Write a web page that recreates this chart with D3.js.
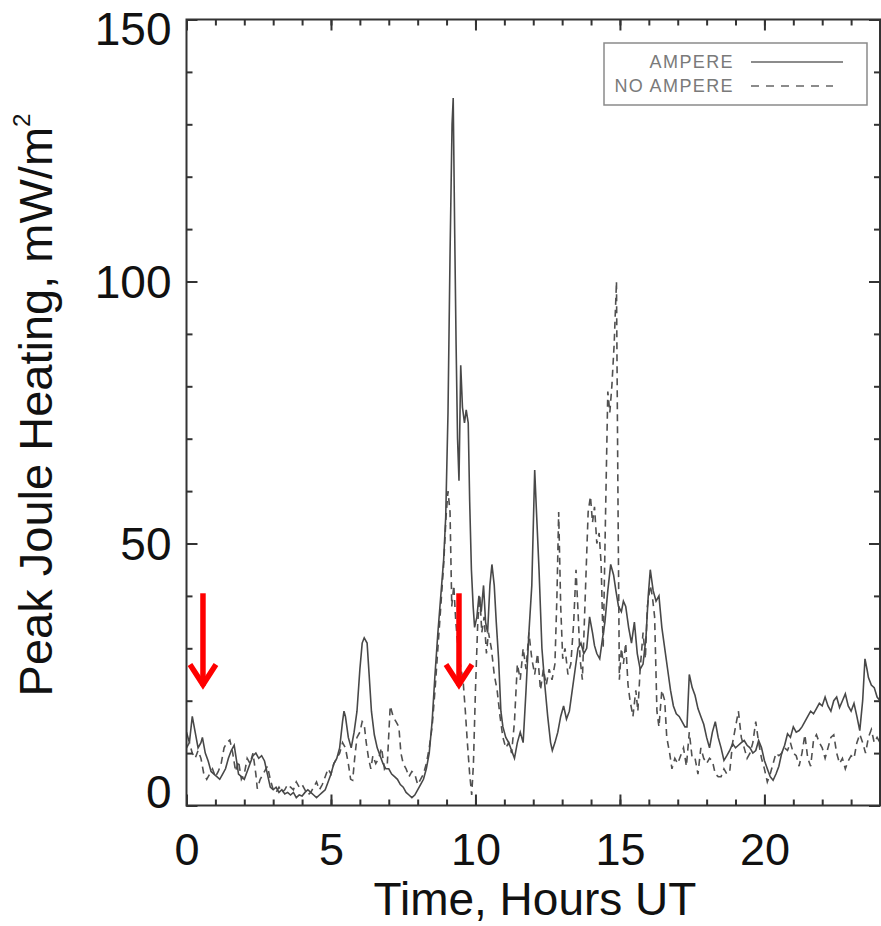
<!DOCTYPE html>
<html>
<head>
<meta charset="utf-8">
<script src="https://cdnjs.cloudflare.com/ajax/libs/d3/7.8.5/d3.min.js"></script>
<style>
  html, body { margin: 0; padding: 0; background: #fff; }
  svg { display: block; font-family: "Liberation Sans", Arial, Helvetica, sans-serif; }
</style>
</head>
<body>
<div id="chart"></div>
<script>
// [hour UT, peak Joule heating mW/m2]
const ampere = [
  [0.0,14],[0.1,12],[0.2,17],[0.3,14],[0.4,11],[0.5,12],[0.55,13],[0.65,10],[0.75,8.5],[0.85,6.5],
  [0.95,6],[1.05,5.5],[1.15,5],[1.25,6],[1.35,7],[1.45,9],[1.55,10.5],[1.65,11.5],[1.72,9],[1.8,6],
  [1.9,5.5],[2.0,5],[2.1,6.5],[2.2,8],[2.3,9.5],[2.4,10],[2.5,9],[2.6,9.5],[2.7,8.5],[2.8,6],
  [2.9,3.5],[3.0,3],[3.1,3.5],[3.2,2.5],[3.3,3],[3.4,2.2],[3.5,2.5],[3.6,2],[3.7,2.5],[3.8,1.5],
  [3.9,2],[4.0,1.8],[4.1,2.5],[4.2,3],[4.3,2.5],[4.4,2],[4.5,1.5],[4.6,2],[4.7,2.5],[4.8,3],
  [4.9,4.5],[5.0,6],[5.1,8],[5.2,9],[5.3,11],[5.4,16],[5.45,18],[5.5,17],[5.6,13],[5.7,11],
  [5.8,14],[5.9,18],[6.0,26],[6.08,31],[6.15,32],[6.25,31],[6.32,25],[6.4,18],[6.5,13.5],[6.6,11],
  [6.7,9.5],[6.8,8],[6.9,7],[7.0,7],[7.1,6],[7.2,5.5],[7.3,5],[7.4,4],[7.5,3.5],[7.6,2.5],
  [7.7,2],[7.8,1.5],[7.9,2],[8.0,3],[8.1,4],[8.2,5],[8.3,7],[8.4,10],[8.5,16],[8.6,25],
  [8.7,33],[8.8,40],[8.9,47],[8.97,55],[9.05,75],[9.12,105],[9.19,130],[9.23,135],[9.28,110],[9.33,88],
  [9.38,70],[9.43,62],[9.49,84],[9.55,76],[9.62,73],[9.68,75.5],[9.75,73],[9.8,58],[9.86,45],[9.92,38],
  [9.97,34],[10.05,36],[10.12,40],[10.2,37],[10.28,42],[10.35,35],[10.42,33],[10.5,42],[10.57,46],[10.65,42],
  [10.72,35],[10.8,28],[10.88,18],[10.95,15],[11.05,13],[11.15,12],[11.25,10.5],[11.35,9],[11.45,12],[11.55,14],
  [11.65,12],[11.75,22],[11.85,33],[11.95,42],[12.05,64],[12.12,55],[12.2,45],[12.3,30],[12.4,23],[12.5,17],
  [12.6,12],[12.66,10.5],[12.75,12],[12.85,14],[12.95,17],[13.05,19],[13.15,16.5],[13.25,18],[13.35,22],[13.45,26],
  [13.55,30],[13.65,31],[13.75,29],[13.85,30],[13.95,36],[14.05,33],[14.12,30.5],[14.2,29],[14.3,28],[14.4,32],
  [14.48,35],[14.58,41],[14.68,46],[14.78,44],[14.86,41],[14.95,38],[15.05,37],[15.12,39],[15.2,38],[15.3,34],
  [15.4,31],[15.5,35],[15.6,29],[15.7,26],[15.8,27],[15.9,32],[15.98,40],[16.05,45],[16.15,41],[16.25,39],
  [16.35,40],[16.45,34],[16.55,30],[16.65,26],[16.75,22],[16.85,19],[16.95,17.5],[17.05,17],[17.15,16],[17.25,15],
  [17.32,15],[17.4,25],[17.5,22.5],[17.6,21],[17.7,18.5],[17.8,17],[17.9,15.5],[18.0,13],[18.1,11],[18.2,14],
  [18.3,16],[18.4,13],[18.5,11],[18.6,8.6],[18.7,9.5],[18.8,10.5],[18.9,11.8],[19.0,11],[19.1,11.5],[19.2,12],
  [19.3,12.4],[19.4,11.5],[19.5,11],[19.6,10],[19.7,10.5],[19.8,12.4],[19.9,11],[20.0,8.6],[20.1,7],[20.2,5.5],
  [20.3,4.8],[20.4,6],[20.5,7.5],[20.6,10],[20.7,11.5],[20.8,13.7],[20.9,13],[21.0,15],[21.1,14],[21.2,14.3],
  [21.3,15],[21.4,16],[21.5,17],[21.6,18],[21.7,17.5],[21.8,18.5],[21.9,19.5],[22.0,19],[22.1,20.7],[22.2,19],
  [22.3,18],[22.4,20],[22.5,20.7],[22.6,18.7],[22.7,20],[22.8,21.3],[22.9,19],[23.0,18],[23.1,19.5],[23.2,17],
  [23.3,14.3],[23.4,20],[23.48,28],[23.55,26],[23.6,24.4],[23.7,23],[23.8,22.5],[23.9,20.7],[24.0,20]
];

const noAmpere = [
  [0.0,11],[0.1,12],[0.2,10],[0.3,9],[0.4,10.5],[0.5,9],[0.6,6],[0.7,5],[0.8,6],[0.9,7],
  [1.0,5.5],[1.1,6.5],[1.2,8],[1.3,11],[1.4,12],[1.5,12.5],[1.6,10],[1.7,6.5],[1.8,8.5],[1.9,5],
  [2.0,6],[2.1,9],[2.2,8],[2.3,10],[2.4,6],[2.45,3.2],[2.55,5],[2.65,6],[2.8,7.5],[2.9,5],
  [3.0,3],[3.1,2.5],[3.2,3.5],[3.3,2.5],[3.4,3],[3.5,4],[3.6,3.5],[3.7,3],[3.8,4.5],[3.9,3.5],
  [4.0,4],[4.1,3],[4.2,2],[4.3,2.5],[4.4,3.5],[4.5,4.5],[4.6,3],[4.7,4],[4.8,5.5],[4.9,7],
  [5.0,6],[5.1,8],[5.2,9],[5.3,10],[5.4,12],[5.5,11],[5.6,8],[5.68,5],[5.75,4.8],[5.82,9],
  [5.9,13],[6.0,14],[6.08,16],[6.15,15.5],[6.22,12],[6.3,9],[6.38,7],[6.45,9.5],[6.55,8],[6.65,9],
  [6.75,11],[6.85,7],[6.95,8],[7.05,19],[7.15,17],[7.25,16],[7.35,15],[7.42,10],[7.5,8],[7.6,7],
  [7.7,5.5],[7.8,6.5],[7.9,6],[8.0,4],[8.1,5],[8.2,6],[8.3,8],[8.4,11],[8.5,15],[8.6,22],
  [8.7,30],[8.8,38],[8.9,46],[8.98,55],[9.05,60],[9.12,56],[9.18,38],[9.25,42],[9.32,35],[9.4,30],
  [9.5,26],[9.57,24],[9.65,18],[9.72,12],[9.8,6],[9.87,2],[9.93,8],[10.0,22],[10.08,35],[10.15,40],
  [10.22,33],[10.3,36],[10.38,29],[10.45,33],[10.55,30],[10.65,25],[10.75,22],[10.85,17],[10.95,13],[11.05,11],
  [11.15,12],[11.25,10],[11.35,16],[11.45,27],[11.55,24],[11.65,30],[11.75,26],[11.85,33],[11.95,28],[12.05,25],
  [12.15,29],[12.25,22],[12.35,26],[12.45,23],[12.55,26],[12.65,24],[12.75,27],[12.82,40],[12.88,56],[12.95,38],
  [13.02,28],[13.1,30],[13.2,25],[13.3,27],[13.4,35],[13.48,45],[13.55,37],[13.62,28],[13.7,24],[13.8,40],
  [13.9,56],[13.98,59],[14.05,54],[14.12,57],[14.2,50],[14.28,52],[14.35,46],[14.42,30],[14.5,55],[14.58,79],
  [14.65,75],[14.72,80],[14.8,88],[14.88,100],[14.93,60],[14.98,24],[15.05,30],[15.12,27],[15.2,31],[15.28,23],
  [15.35,20],[15.45,17],[15.55,22],[15.62,18],[15.7,26],[15.8,33],[15.88,28],[15.95,38],[16.05,42],[16.12,40],
  [16.2,36],[16.28,18],[16.35,15],[16.45,22],[16.55,20],[16.62,13],[16.72,10],[16.8,7],[16.9,9],[17.0,8],
  [17.1,9.5],[17.2,11],[17.3,7.5],[17.4,14],[17.5,9],[17.6,9],[17.7,6],[17.8,11],[17.9,9],[18.0,8],
  [18.1,9],[18.2,8.5],[18.3,6],[18.4,5.5],[18.5,5.5],[18.6,7],[18.7,6],[18.8,6.5],[18.9,12],[19.0,15],
  [19.1,18],[19.2,13],[19.3,11],[19.4,9],[19.5,10],[19.6,12],[19.7,16],[19.8,12],[19.9,9],[20.0,7],
  [20.1,4.5],[20.2,6],[20.3,8],[20.4,10],[20.5,9.5],[20.6,10],[20.7,11],[20.8,10.5],[20.9,12],[21.0,10],
  [21.1,9.5],[21.2,7.5],[21.3,10],[21.4,13.5],[21.5,9],[21.6,7.5],[21.7,12.5],[21.8,13.5],[21.9,12],[22.0,11],
  [22.1,9],[22.2,11],[22.3,13],[22.4,13.5],[22.5,10],[22.6,8],[22.7,9],[22.8,7],[22.9,8.5],[23.0,9.5],
  [23.1,9],[23.2,12],[23.3,13.6],[23.4,12],[23.5,10],[23.6,13],[23.7,14.5],[23.8,12],[23.9,13],[24.0,12]
];

const xMajor = [0, 5, 10, 15, 20];
const xMinor = d3.range(0, 25, 1);
const yMajor = [0, 50, 100, 150];
const yMinor = d3.range(0, 151, 10);
const legendLabels = ["AMPERE", "NO AMPERE"];
const arrowHours = [0.57, 9.43];

const W = 881, H = 926;
const margin = { top: 19.5, right: 1, bottom: 120.5, left: 186.5 };
const width = W - margin.left - margin.right;
const height = H - margin.top - margin.bottom;

const svg = d3.select("#chart").append("svg")
  .attr("width", W).attr("height", H);

const g = svg.append("g")
  .attr("transform", `translate(${margin.left},${margin.top})`);

const x = d3.scaleLinear().domain([0, 24]).range([0, width]);
const y = d3.scaleLinear().domain([0, 150]).range([height, 0]);

g.append("clipPath").attr("id", "clip")
  .append("rect").attr("width", width).attr("height", height);

const line = d3.line().x(d => x(d[0])).y(d => y(d[1]));

// courbes
g.append("path").datum(noAmpere)
  .attr("clip-path", "url(#clip)")
  .attr("fill", "none").attr("stroke", "#505050")
  .attr("stroke-width", 1.6).attr("stroke-dasharray", "7,5")
  .attr("d", line);

g.append("path").datum(ampere)
  .attr("clip-path", "url(#clip)")
  .attr("fill", "none").attr("stroke", "#484848")
  .attr("stroke-width", 1.6)
  .attr("d", line);

// axes (ticks vers l'intérieur)
const axisColor = "#333";
const styleAxis = sel => {
  sel.select(".domain").remove();
  sel.selectAll(".tick line").attr("stroke", axisColor).attr("stroke-width", 2);
};

g.append("g").attr("transform", `translate(0,${height})`)
  .call(d3.axisBottom(x).tickValues(xMinor).tickSize(-6).tickFormat(""))
  .call(styleAxis);
g.append("g").attr("transform", `translate(0,${height})`)
  .call(d3.axisBottom(x).tickValues(xMajor).tickSize(-11).tickPadding(28).tickFormat(d3.format("d")))
  .call(styleAxis)
  .call(a => a.selectAll("text").attr("fill", "#111").attr("font-size", 45));

g.append("g")
  .call(d3.axisTop(x).tickValues(xMinor).tickSize(-6).tickFormat(""))
  .call(styleAxis);
g.append("g")
  .call(d3.axisTop(x).tickValues(xMajor).tickSize(-11).tickFormat(""))
  .call(styleAxis);

g.append("g")
  .call(d3.axisLeft(y).tickValues(yMinor).tickSize(-6).tickFormat(""))
  .call(styleAxis);
g.append("g")
  .call(d3.axisLeft(y).tickValues(yMajor).tickSize(-11).tickPadding(15).tickFormat(d3.format("d")))
  .call(styleAxis)
  .call(a => a.selectAll("text").attr("fill", "#111").attr("font-size", 46)
    .attr("dy", d => d === 150 ? "0.55em" : d === 0 ? "0.05em" : "0.35em"));

g.append("g").attr("transform", `translate(${width},0)`)
  .call(d3.axisRight(y).tickValues(yMinor).tickSize(-6).tickFormat(""))
  .call(styleAxis);
g.append("g").attr("transform", `translate(${width},0)`)
  .call(d3.axisRight(y).tickValues(yMajor).tickSize(-11).tickFormat(""))
  .call(styleAxis);

g.append("rect")
  .attr("width", width).attr("height", height)
  .attr("fill", "none").attr("stroke", axisColor).attr("stroke-width", 2);

// titres
svg.append("text")
  .attr("x", 535).attr("y", 915)
  .attr("text-anchor", "middle").attr("font-size", 46).attr("fill", "#111")
  .text("Time, Hours UT");

const yTitle = svg.append("text")
  .attr("transform", "translate(52,405) rotate(-90)")
  .attr("text-anchor", "middle").attr("font-size", 47).attr("fill", "#111");
yTitle.append("tspan").text("Peak Joule Heating, mW/m");
yTitle.append("tspan").attr("font-size", 24).attr("dy", -22).text("2");

// légende
const legend = svg.append("g");
legend.append("rect")
  .attr("x", 604).attr("y", 43).attr("width", 263).attr("height", 62)
  .attr("fill", "#fff").attr("stroke", "#8a8a8a").attr("stroke-width", 1.5);

legendLabels.forEach((lab, i) => {
  const ly = 62 + i * 24;
  legend.append("text")
    .attr("x", 734).attr("y", ly).attr("dy", "0.35em")
    .attr("text-anchor", "end").attr("font-size", 18).attr("fill", "#7a7a7a")
    .attr("letter-spacing", 1.4)
    .text(lab);
  legend.append("line")
    .attr("x1", 751).attr("x2", i === 0 ? 843 : 833)
    .attr("y1", ly).attr("y2", ly)
    .attr("stroke", "#666").attr("stroke-width", 1.5)
    .attr("stroke-dasharray", i === 0 ? null : "8,7");
});

// flèches rouges
arrowHours.forEach(h => {
  const ax = x(h), top = y(40.5), tip = y(22.5);
  const ag = g.append("g").attr("stroke", "#f00").attr("fill", "none")
    .attr("stroke-width", 5.5);
  ag.append("line").attr("x1", ax).attr("x2", ax).attr("y1", top).attr("y2", tip - 2);
  ag.append("path")
    .attr("stroke-linejoin", "miter")
    .attr("d", `M${ax - 13},${tip - 23} L${ax},${tip - 3} L${ax + 13},${tip - 23}`);
});
</script>
</body>
</html>
